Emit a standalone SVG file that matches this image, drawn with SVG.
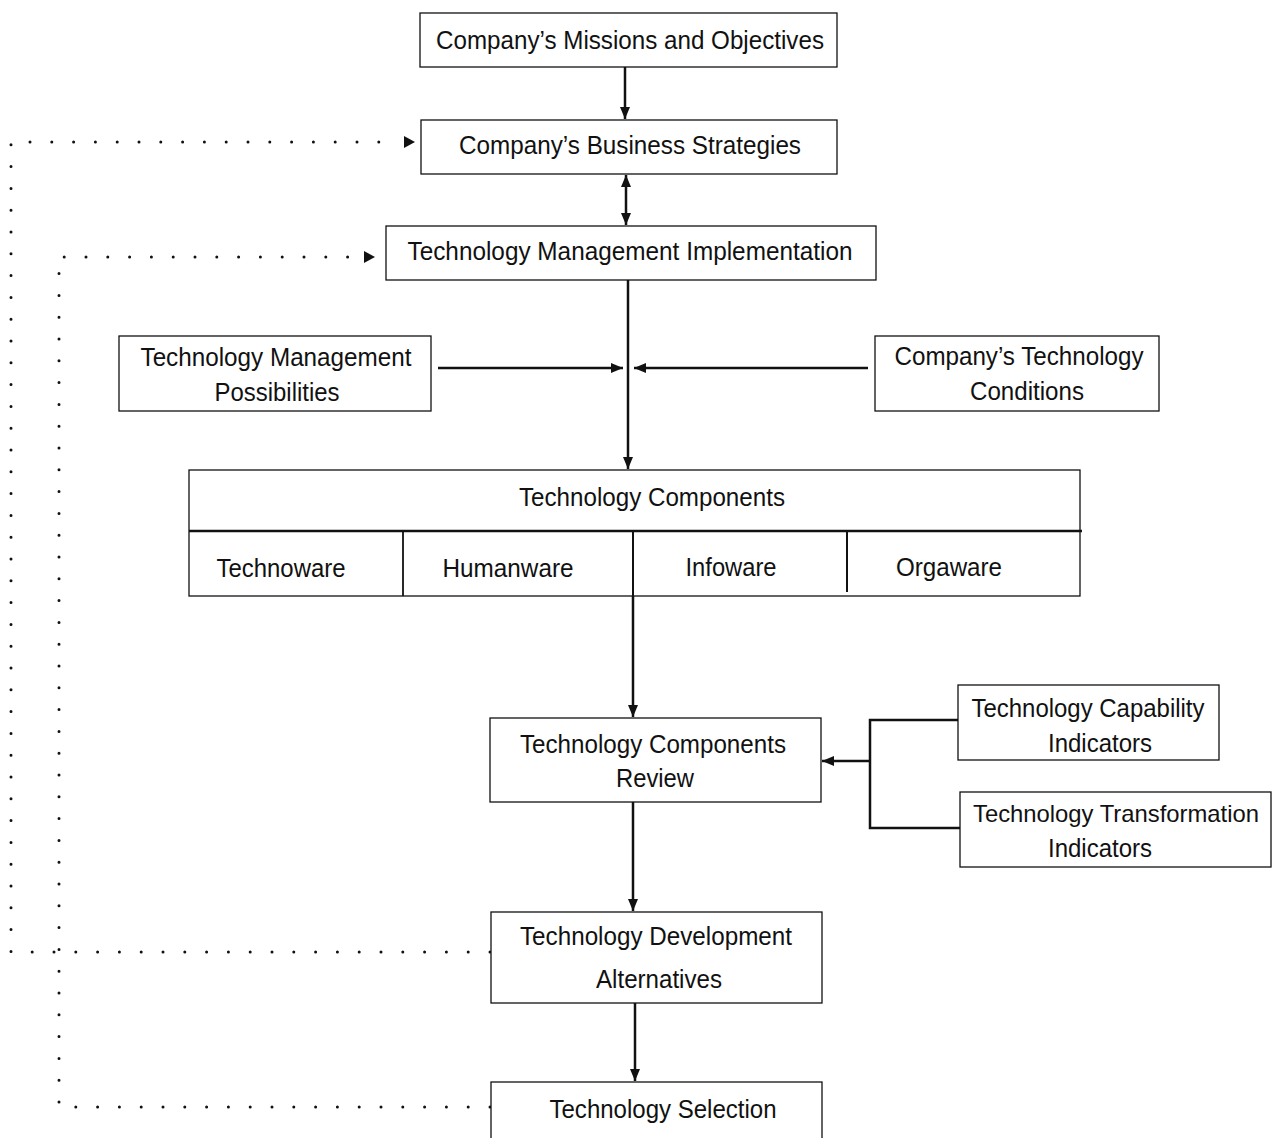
<svg xmlns="http://www.w3.org/2000/svg" width="1276" height="1138" viewBox="0 0 1276 1138">
<style>
.box{fill:#fff;stroke:#111;stroke-width:1.3}
.t{font-family:"Liberation Sans",Arial,sans-serif;font-size:26px;fill:#111;text-anchor:middle;dominant-baseline:central}
.ln{stroke:#111;stroke-width:2.5;fill:none}
.dot{stroke:#111;stroke-width:3;stroke-linecap:round;stroke-dasharray:0 21.8;fill:none}
</style>
<defs>
<marker id="ah" viewBox="0 0 12 10" refX="12" refY="5" markerWidth="12" markerHeight="10" markerUnits="userSpaceOnUse" orient="auto-start-reverse">
<path d="M0,0 L12,5 L0,10 Z" fill="#111"/>
</marker>
</defs>
<g id="connectors">
<line class="ln" x1="625" y1="67" x2="625" y2="119" marker-end="url(#ah)"/>
<line class="ln" x1="626" y1="175" x2="626" y2="225" marker-start="url(#ah)" marker-end="url(#ah)"/>
<line class="ln" x1="628" y1="280" x2="628" y2="469" marker-end="url(#ah)"/>
<line class="ln" x1="438" y1="368" x2="623" y2="368" marker-end="url(#ah)"/>
<line class="ln" x1="868" y1="368" x2="634" y2="368" marker-end="url(#ah)"/>
<line class="ln" x1="633" y1="596" x2="633" y2="717" marker-end="url(#ah)"/>
<polyline class="ln" points="958,720 870,720 870,828 960,828"/>
<line class="ln" x1="870" y1="761" x2="822" y2="761" marker-end="url(#ah)"/>
<line class="ln" x1="633" y1="802" x2="633" y2="911" marker-end="url(#ah)"/>
<line class="ln" x1="635" y1="1003" x2="635" y2="1081" marker-end="url(#ah)"/>
<polyline class="dot" points="490,952 11,952 11,142 400,142"/>
<path d="M404,136 L415,142 L404,148 Z" fill="#111"/>
<polyline class="dot" points="490,1107 59,1107 59,257 362,257"/>
<path d="M364,251 L375,257 L364,263 Z" fill="#111"/>
</g>
<g id="missions"><rect class="box" x="420" y="13" width="417" height="54"/><text class="t" x="630" y="40" textLength="388" lengthAdjust="spacingAndGlyphs">Company’s Missions and Objectives</text></g>
<g id="business"><rect class="box" x="421" y="120" width="416" height="54"/><text class="t" x="630" y="145" textLength="342" lengthAdjust="spacingAndGlyphs">Company’s Business Strategies</text></g>
<g id="tmi"><rect class="box" x="386" y="226" width="490" height="54"/><text class="t" x="630" y="251" textLength="445" lengthAdjust="spacingAndGlyphs">Technology Management Implementation</text></g>
<g id="tmp"><rect class="box" x="119" y="336" width="312" height="75"/><text class="t" x="276" y="357" textLength="271" lengthAdjust="spacingAndGlyphs">Technology Management</text><text class="t" x="277" y="392" textLength="125" lengthAdjust="spacingAndGlyphs">Possibilities</text></g>
<g id="ctc"><rect class="box" x="875" y="336" width="284" height="75"/><text class="t" x="1019" y="356" textLength="249" lengthAdjust="spacingAndGlyphs">Company’s Technology</text><text class="t" x="1027" y="391" textLength="114" lengthAdjust="spacingAndGlyphs">Conditions</text></g>
<g id="tc">
<rect class="box" x="189" y="470" width="891" height="126"/>
<line x1="189" y1="531" x2="1082" y2="531" stroke="#111" stroke-width="2.5"/>
<line x1="403" y1="531" x2="403" y2="596" stroke="#111" stroke-width="1.8"/>
<line x1="633" y1="531" x2="633" y2="596" stroke="#111" stroke-width="2"/>
<line x1="847" y1="531" x2="847" y2="592" stroke="#111" stroke-width="2"/>
<text class="t" x="652" y="497" textLength="266" lengthAdjust="spacingAndGlyphs">Technology Components</text>
<text class="t" x="281" y="568" textLength="129" lengthAdjust="spacingAndGlyphs">Technoware</text>
<text class="t" x="508" y="568" textLength="131" lengthAdjust="spacingAndGlyphs">Humanware</text>
<text class="t" x="731" y="567" textLength="91" lengthAdjust="spacingAndGlyphs">Infoware</text>
<text class="t" x="949" y="567" textLength="106" lengthAdjust="spacingAndGlyphs">Orgaware</text>
</g>
<g id="tcr"><rect class="box" x="490" y="718" width="331" height="84"/><text class="t" x="653" y="744" textLength="266" lengthAdjust="spacingAndGlyphs">Technology Components</text><text class="t" x="655" y="778" textLength="78" lengthAdjust="spacingAndGlyphs">Review</text></g>
<g id="tci"><rect class="box" x="958" y="685" width="261" height="75"/><text class="t" x="1088" y="708" textLength="233" lengthAdjust="spacingAndGlyphs">Technology Capability</text><text class="t" x="1100" y="743" textLength="104" lengthAdjust="spacingAndGlyphs">Indicators</text></g>
<g id="tti"><rect class="box" x="960" y="792" width="311" height="75"/><text class="t" x="1116" y="813" style="font-size:24px" textLength="286" lengthAdjust="spacingAndGlyphs">Technology Transformation</text><text class="t" x="1100" y="848" textLength="104" lengthAdjust="spacingAndGlyphs">Indicators</text></g>
<g id="tda"><rect class="box" x="491" y="912" width="331" height="91"/><text class="t" x="656" y="936" textLength="272" lengthAdjust="spacingAndGlyphs">Technology Development</text><text class="t" x="659" y="979" textLength="126" lengthAdjust="spacingAndGlyphs">Alternatives</text></g>
<g id="ts"><rect class="box" x="491" y="1082" width="331" height="70"/><text class="t" x="663" y="1109" textLength="227" lengthAdjust="spacingAndGlyphs">Technology Selection</text></g>
</svg>
